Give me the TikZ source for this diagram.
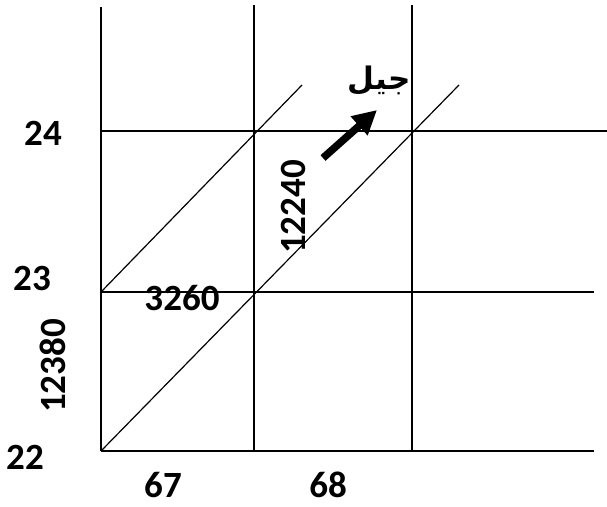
\documentclass[tikz,border=0pt]{standalone}
\usepackage{fontspec}
\setmainfont{Carlito}
\newfontfamily\arabicfont[Script=Arabic]{DejaVu Sans}
\TeXXeTstate=1
\usetikzlibrary{arrows.meta}
\begin{document}
\begin{tikzpicture}[x=1pt,y=-1pt,
  gridline/.style={line width=1.2pt},
  lbl/.style={font=\fontsize{37}{37}\selectfont\bfseries, inner sep=0pt},
  arlbl/.style={font=\fontsize{31}{31}\selectfont\arabicfont\bfseries, inner sep=0pt}]
\useasboundingbox (0,0) rectangle (607,506);
% coordinates
\coordinate (v1t) at (101,7);   \coordinate (v1b) at (101,451);
\coordinate (v2t) at (254,5);   \coordinate (v2b) at (254,451);
\coordinate (v3t) at (412,5);   \coordinate (v3b) at (412,451);
\coordinate (h1l) at (101,131); \coordinate (h1r) at (607,131);
\coordinate (h2l) at (101,292); \coordinate (h2r) at (594,292);
\coordinate (h3l) at (101,451); \coordinate (h3r) at (594,451);
\coordinate (d1a) at (101,292); \coordinate (d1b) at (302,85);
\coordinate (d2a) at (101,451); \coordinate (d2b) at (459,85);
\coordinate (arA) at (323,158); \coordinate (arB) at (377,110);
% grid
\draw[gridline] (v1t) -- (v1b);
\draw[gridline] (v2t) -- (v2b);
\draw[gridline] (v3t) -- (v3b);
\draw[gridline] (h1l) -- (h1r);
\draw[gridline] (h2l) -- (h2r);
\draw[gridline] (h3l) -- (h3r);
\draw[gridline] (d1a) -- (d1b);
\draw[gridline] (d2a) -- (d2b);
% arrow
\draw[line width=7.5pt, -{Triangle[length=24pt,width=24pt]}] (arA) -- (arB);
% labels
\node[lbl] (l24) at (43,133) {24};
\node[lbl] (l23) at (32,278) {23};
\node[lbl] (l22) at (25,457) {22};
\node[lbl, anchor=base] (l67) at (163,497) {67};
\node[lbl, anchor=base] (l68) at (328,497) {68};
\node[lbl] (l3260) at (182,298) {3260};
\node[lbl, rotate=90] (l12380) at (53,366) {12380};
\node[lbl, rotate=90] (l12240) at (293,207) {12240};
\node[arlbl] (ljil) at (379,81) {\beginR جيل\endR};
\end{tikzpicture}
\end{document}
